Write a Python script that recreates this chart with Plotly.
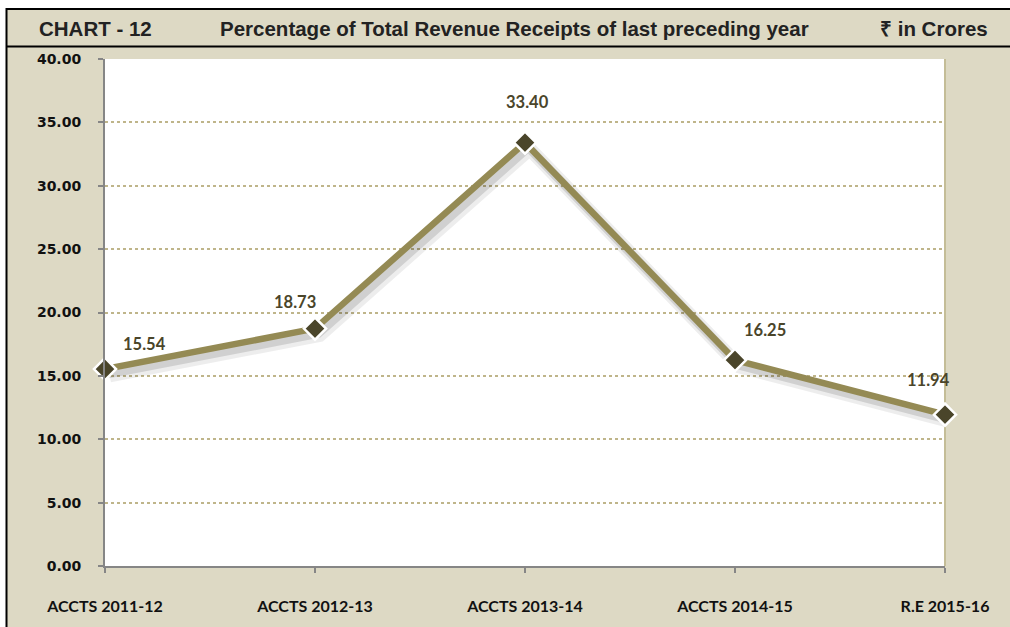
import plotly.graph_objects as go

categories = ["ACCTS 2011-12", "ACCTS 2012-13", "ACCTS 2013-14", "ACCTS 2014-15", "R.E 2015-16"]
values = [15.54, 18.73, 33.40, 16.25, 11.94]
y_ticks = [0, 5, 10, 15, 20, 25, 30, 35, 40]
header_left = "CHART - 12"
header_mid = "Percentage of Total Revenue Receipts of last preceding year"
header_right = "₹ in Crores"

W, H = 1010, 627
L, R, T, B = 105, 65, 59, 56
pw, ph = W - L - R, H - T - B

def px(x):
    return (x - L) / pw

def py(y):
    return (H - B - y) / ph

xs = list(range(len(categories)))

fig = go.Figure()

# soft shadow under the line
for w, a, dx, dy in [(14, 0.07, 0.022, -0.5), (9, 0.12, 0.016, -0.38)]:
    fig.add_trace(go.Scatter(
        x=[v + dx for v in xs], y=[v + dy for v in values], mode="lines",
        line=dict(color=f"rgba(0,0,0,{a})", width=w), hoverinfo="skip",
        showlegend=False, cliponaxis=False))

fig.add_trace(go.Scatter(
    x=xs, y=values, mode="lines+markers",
    line=dict(color="#948A54", width=6.5),
    marker=dict(symbol="diamond", size=17, color="#4A452A",
                line=dict(color="white", width=2.5)),
    showlegend=False, cliponaxis=False))

label_offsets = [(39, -25), (-20, -27), (2, -41), (30, -30), (-17, -35)]
for i, (v, (ox, oy)) in enumerate(zip(values, label_offsets)):
    fig.add_annotation(x=xs[i], y=v, text=f"{v:.2f}", showarrow=False,
                       xshift=ox, yshift=-oy,
                       font=dict(family="Lato", size=16.5, color="#4A452A", weight="bold"))

shapes = [
    dict(type="rect", xref="paper", yref="paper", layer="below",
         x0=px(6.5), x1=px(W + 10), y0=py(H + 10), y1=py(8.5),
         fillcolor="#DDD9C4", line=dict(color="black", width=2)),
    dict(type="line", xref="paper", yref="paper", layer="below",
         x0=px(6.5), x1=px(W + 10), y0=py(46.5), y1=py(46.5),
         line=dict(color="black", width=2)),
    dict(type="rect", xref="paper", yref="paper", layer="below",
         x0=0, x1=1, y0=0, y1=1, fillcolor="white", line=dict(width=0)),
    dict(type="line", xref="paper", yref="paper", layer="below",
         x0=1, x1=1, y0=0, y1=1, line=dict(color="#C4BD97", width=2)),
]

for txt, cx in [(header_left, 95), (header_mid, 514), (header_right, 934)]:
    fig.add_annotation(x=px(cx), y=py(28), xref="paper", yref="paper",
                       text=txt, showarrow=False, xanchor="center", yanchor="middle",
                       font=dict(family="Liberation Sans", size=20.5, color="#222222", weight="bold"))

fig.update_layout(
    width=W, height=H, autosize=False,
    margin=dict(l=L, r=R, t=T, b=B, pad=0),
    paper_bgcolor="white", plot_bgcolor="white",
    shapes=shapes,
    xaxis=dict(range=[0, len(categories) - 1], tickmode="array", tickvals=xs,
               ticktext=categories, showgrid=False, zeroline=False,
               showline=True, linecolor="#868686", linewidth=2,
               ticks="outside", ticklen=5, tickcolor="#868686", tickwidth=2,
               ticklabelstandoff=20,
               tickfont=dict(family="Lato", size=16, color="#111111", weight="bold")),
    yaxis=dict(range=[0, 40], tickmode="array", tickvals=y_ticks,
               ticktext=[f"{t:.2f}" for t in y_ticks],
               showgrid=True, gridcolor="#BFB58A", griddash="dot", gridwidth=1.5,
               zeroline=False, showline=True, linecolor="#868686", linewidth=2,
               ticks="outside", ticklen=5, tickcolor="#868686", tickwidth=2,
               ticklabelstandoff=14,
               tickfont=dict(family="DejaVu Sans", size=14, color="#111111", weight="bold")),
)

fig.write_html("out.html", config={"displayModeBar": False},
               post_script="document.body.style.margin='0';document.body.style.overflow='hidden';")
